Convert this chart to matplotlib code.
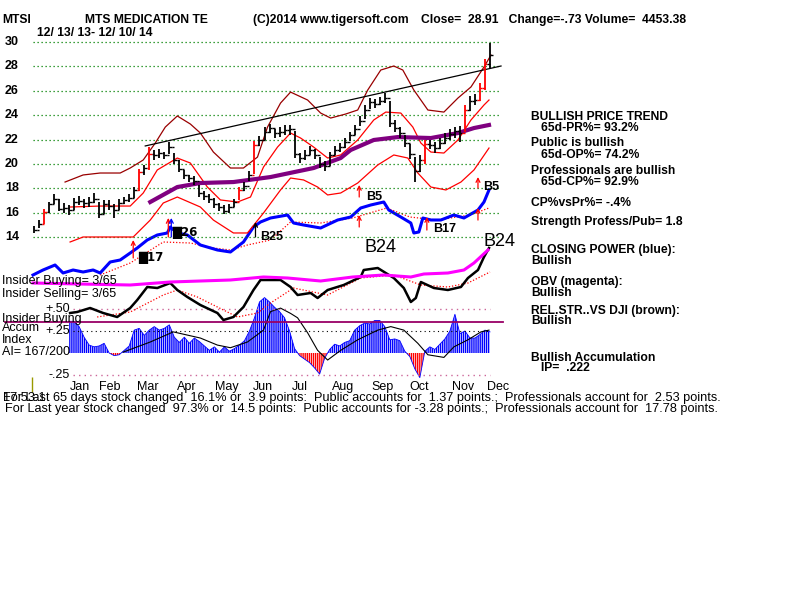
import numpy as np
import matplotlib
matplotlib.use('Agg')
import matplotlib.pyplot as plt

plt.rcParams['font.family'] = ['Liberation Sans', 'DejaVu Sans']
plt.rcParams['hatch.linewidth'] = 1.0

# ---- price bars (one bar every ~2.7 trading days, 12/13/13 - 12/10/14)
close = [14.57, 15.07, 16.05, 16.71, 17.12, 16.30, 16.38, 16.21, 16.87, 16.95,
         16.79, 16.87, 17.12, 15.89, 16.71, 16.54, 16.21, 16.79, 17.04, 17.20,
         17.86, 19.33, 19.66, 20.81, 20.73, 20.89, 20.73, 21.38, 20.32, 19.58,
         19.09, 18.84, 18.59, 17.61, 17.36, 17.12, 16.71, 16.46, 16.13, 16.46,
         16.87, 17.86, 18.18, 19.09, 21.55, 21.96, 22.61, 22.94, 22.53, 22.61,
         22.78, 22.86, 20.81, 20.48, 20.73, 21.14, 20.73, 19.99, 19.82, 20.73,
         21.14, 21.38, 21.79, 22.37, 22.86, 23.52, 24.42, 25.07, 24.91, 25.16,
         25.40, 23.35, 22.94, 22.53, 21.71, 20.81, 19.41, 20.32, 21.63, 21.55,
         21.30, 21.71, 22.12, 22.45, 22.70, 22.53, 24.42, 25.16, 25.24, 26.22,
         28.19, 28.91]
high = [14.9, 15.4, 16.3, 16.9, 17.5, 17.1, 16.8, 16.6, 17.2, 17.4,
        17.1, 17.3, 17.6, 16.9, 17.0, 17.0, 16.7, 17.1, 17.3, 17.5,
        18.1, 19.6, 19.9, 21.4, 21.1, 21.2, 21.0, 21.8, 20.9, 20.3,
        19.5, 19.1, 19.0, 18.3, 17.8, 17.5, 17.2, 16.8, 16.6, 16.7,
        17.1, 18.1, 18.5, 19.4, 21.9, 22.3, 23.0, 23.3, 22.9, 23.0,
        23.2, 23.2, 22.7, 20.9, 21.1, 21.5, 21.2, 20.6, 20.2, 21.0,
        21.5, 21.7, 22.1, 22.6, 23.2, 23.9, 24.8, 25.4, 25.3, 25.5,
        25.8, 25.2, 23.6, 23.0, 22.4, 21.6, 20.6, 20.7, 22.0, 22.0,
        21.8, 22.1, 22.5, 22.9, 23.0, 23.1, 24.8, 25.6, 25.7, 26.6,
        28.6, 29.9]
low = [14.3, 14.7, 15.1, 16.0, 16.7, 16.1, 16.0, 15.8, 16.2, 16.6,
       16.4, 16.5, 16.8, 15.6, 15.9, 16.2, 15.6, 16.2, 16.7, 16.9,
       17.2, 17.8, 19.1, 19.5, 20.3, 20.5, 20.4, 20.8, 20.0, 19.3,
       18.8, 18.5, 18.3, 17.3, 17.0, 16.8, 16.4, 16.1, 15.9, 16.0,
       16.5, 17.0, 17.8, 18.6, 19.2, 21.5, 22.0, 22.5, 22.1, 22.2,
       22.4, 22.4, 20.5, 20.1, 20.3, 20.7, 20.4, 19.7, 19.4, 19.8,
       20.7, 21.0, 21.3, 21.9, 22.4, 23.1, 23.7, 24.5, 24.6, 24.8,
       25.0, 23.0, 22.6, 22.1, 21.4, 20.4, 18.5, 19.3, 20.0, 21.2,
       20.9, 21.2, 21.6, 22.0, 22.1, 21.8, 22.6, 24.3, 24.8, 25.2,
       26.1, 27.8]

# ---- bands and averages on the price panel (x = bar index)
brown_x = [6.2, 9.8, 13.2, 17.2, 19.2, 21.8, 24.2, 26.2, 28.6, 31.2, 33.2, 35.8,
           39.2, 41.8, 44.6, 46.6, 49.2, 51.2, 54.6, 57.2, 59.2, 62.2, 64.6, 66.6,
           69.2, 71.8, 73.6, 75.8, 78.6, 81.8, 84.6, 87.2, 89.8, 91.2]
brown_y = [18.51, 19.09, 19.25, 19.25, 19.66, 20.32, 21.71, 23.02, 23.93, 23.27,
           22.53, 20.97, 19.66, 19.66, 20.56, 23.02, 24.99, 25.89, 25.24, 24.17,
           23.76, 24.09, 24.42, 26.06, 27.70, 28.03, 27.70, 26.06, 24.42, 24.25,
           25.40, 26.31, 27.95, 28.93]
mid_x = [7.2, 13.2, 19.2, 21.8, 24.6, 28.6, 31.2, 34.6, 37.2, 40.6, 43.2, 45.8,
         48.6, 51.2, 53.2, 55.8, 58.6, 61.2, 64.6, 67.8, 70.2, 73.2, 75.6, 77.2,
         79.2, 81.8, 84.6, 87.2, 89.8, 90.8]
mid_y = [16.46, 16.54, 16.54, 17.61, 19.50, 20.48, 20.07, 18.10, 17.04, 16.87,
         17.28, 19.74, 21.38, 22.53, 22.12, 21.38, 20.48, 20.73, 21.96, 23.60,
         24.25, 24.17, 23.02, 21.71, 20.97, 20.89, 21.96, 23.60, 24.83, 25.24]
lowb_x = [7.2, 9.8, 19.8, 23.2, 25.8, 28.6, 33.2, 35.8, 39.8, 42.6, 45.8, 49.2,
          51.2, 53.8, 56.6, 58.6, 61.2, 64.6, 68.6, 71.8, 74.6, 76.6, 79.2, 82.2,
          85.2, 87.8, 90.8]
lowb_y = [13.59, 14.0, 14.0, 15.39, 16.79, 17.28, 16.46, 15.39, 14.33, 14.33,
          15.97, 17.86, 18.84, 18.68, 18.10, 17.45, 17.61, 18.43, 19.91, 20.73,
          20.48, 19.25, 18.10, 17.86, 18.51, 19.50, 21.30]
ma_x = [23.2, 28.6, 33.2, 39.8, 47.2, 55.8, 61.2, 63.2, 67.8, 72.6, 79.2, 84.6,
        87.8, 90.8]
ma_y = [16.87, 18.10, 18.43, 18.51, 18.92, 19.66, 20.48, 21.14, 21.96, 22.20,
        22.12, 22.53, 22.94, 23.19]
trend_x = [22.2, 93.2]
trend_y = [21.47, 28.03]

# ---- closing power (blue) and its average
cp_x = [-0.2, 1.8, 4.2, 5.8, 7.8, 9.8, 11.8, 13.2, 15.2, 17.2, 19.2, 20.6, 22.6,
        24.6, 26.6, 27.2, 28.6, 30.6, 33.2, 36.6, 39.2, 41.8, 43.8, 45.2, 47.2,
        50.6, 51.8, 53.8, 57.2, 60.6, 63.2, 65.2, 67.2, 69.8, 70.8, 73.2, 75.2,
        75.8, 76.8, 77.6, 79.2, 81.2, 83.8, 85.8, 88.6, 89.8, 90.8]
cp_y = [2.5, 3.0, 3.5, 2.7, 3.0, 2.8, 3.0, 2.7, 3.8, 4.0, 4.7, 5.2, 6.0, 6.5, 6.7,
        7.3, 6.7, 6.5, 5.5, 5.0, 4.8, 5.8, 7.3, 7.8, 8.2, 8.5, 7.7, 7.5, 7.2, 8.0,
        8.3, 9.2, 9.5, 9.8, 9.0, 8.3, 7.7, 6.7, 6.8, 8.2, 8.0, 8.0, 8.5, 8.2, 9.0,
        9.8, 11.0]
cpma_x = [13.2, 19.2, 25.8, 31.2, 35.8, 39.2, 42.6, 47.2, 51.2, 57.2, 63.6, 70.4,
          75.0, 80.4, 87.0, 90.8]
cpma_y = [2.5, 3.7, 5.8, 5.7, 5.2, 5.0, 5.5, 6.0, 7.8, 7.7, 8.2, 9.2, 8.3, 8.0,
          8.5, 9.2]

# ---- OBV (magenta), black line and red dotted average
obv_x = [-0.2, 9.2, 19.2, 27.2, 39.2, 45.8, 50.6, 57.2, 63.6, 69.8, 75.2, 77.8,
         82.6, 85.8, 87.8, 90.6]
obv_y = [3.7, 3.6, 3.5, 3.8, 4.0, 4.3, 4.2, 3.9, 4.3, 4.5, 4.3, 4.6, 4.7, 5.0,
         5.7, 7.0]
blk_x = [7.2, 8.6, 11.2, 13.8, 16.6, 19.2, 20.6, 22.6, 24.6, 27.2, 28.6, 30.6,
         33.2, 36.6, 37.8, 39.8, 41.8, 43.8, 45.2, 49.2, 51.2, 52.6, 55.2, 56.6,
         58.6, 61.8, 65.2, 65.8, 68.6, 70.2, 71.8, 73.8, 75.2, 76.2, 77.2, 79.8,
         82.6, 85.2, 86.6, 88.6, 89.8, 90.8]
blk_y = [0.7, 0.8, 1.2, 0.7, 0.3, 1.2, 2.0, 3.3, 3.2, 3.7, 3.0, 2.3, 1.5, 0.7, 0.0,
         0.3, 1.3, 3.0, 4.0, 4.0, 3.3, 2.5, 2.7, 2.2, 3.0, 3.5, 4.3, 5.0, 5.2, 4.7,
         4.2, 3.2, 1.8, 2.2, 3.8, 3.2, 3.0, 3.3, 4.2, 5.0, 6.3, 7.2]
rdot_x = [12.6, 19.2, 25.8, 28.6, 32.6, 36.6, 40.6, 44.6, 47.2, 51.8, 58.6, 65.2,
          71.8, 77.2, 82.6, 86.6, 91.0]
rdot_y = [0.3, 0.8, 2.5, 3.0, 2.3, 1.3, 0.3, 0.7, 1.7, 3.2, 2.5, 4.2, 4.5, 3.5,
          3.3, 3.7, 4.8]

# ---- accumulation index (bars 7..91) and its average
ai = [0.36, 0.36, 0.30, 0.18, 0.09, 0.07, 0.08, 0.11, 0.00, -0.03, -0.02, 0.03,
      0.08, 0.26, 0.28, 0.20, 0.26, 0.30, 0.26, 0.28, 0.32, 0.18, 0.12, 0.18,
      0.11, 0.17, 0.13, 0.08, 0.03, 0.07, 0.01, 0.07, 0.02, 0.05, 0.09, 0.14,
      0.25, 0.40, 0.58, 0.63, 0.58, 0.52, 0.47, 0.40, 0.25, 0.05, -0.03, -0.07,
      -0.11, -0.17, -0.24, -0.06, 0.04, 0.10, 0.08, 0.12, 0.14, 0.26, 0.31, 0.34,
      0.33, 0.37, 0.37, 0.30, 0.15, 0.16, 0.14, 0.02, -0.04, -0.18, -0.28, 0.02,
      0.07, 0.04, 0.10, 0.16, 0.25, 0.44, 0.22, 0.25, 0.17, 0.17, 0.21, 0.26,
      0.24]
aima_x = [17.8, 23.2, 27.8, 33.2, 36.6, 39.2, 42.6, 45.8, 47.2, 49.2, 51.2, 52.6,
          54.6, 56.6, 58.6, 61.2, 64.6, 68.6, 71.2, 73.8, 76.6, 78.6, 81.8, 83.8,
          86.6, 89.2, 90.8]
aima_y = [0.01, 0.125, 0.24, 0.17, 0.09, 0.06, 0.125, 0.26, 0.47, 0.51, 0.45, 0.40,
          0.23, 0.03, -0.08, 0.03, 0.15, 0.26, 0.30, 0.26, 0.11, -0.02, -0.05, 0.07,
          0.15, 0.24, 0.26]

# ---- buy signal arrows: bar index, from, to (price units)
arrows = [(19.8, 12.28, 13.75, 'red'), (26.8, 14.0, 15.56, 'red'),
          (27.4, 14.0, 15.56, 'blue'), (44.2, 14.0, 15.23, 'black'),
          (64.9, 17.28, 18.27, 'red'), (64.9, 14.82, 15.80, 'red'),
          (78.4, 14.57, 15.64, 'red'), (88.6, 18.02, 18.92, 'red'),
          (88.6, 15.39, 16.38, 'red')]

months = ['Jan', 'Feb', 'Mar', 'Apr', 'May', 'Jun', 'Jul', 'Aug', 'Sep', 'Oct',
          'Nov', 'Dec']
month_pos = [9.2, 15.2, 22.8, 30.5, 38.5, 45.7, 53.1, 61.7, 69.5, 76.8, 85.6, 92.6]
price_levels = [14, 16, 18, 20, 22, 24, 26, 28, 30]

W, H = 800, 600
fig = plt.figure(figsize=(8, 6), dpi=100, facecolor='white')
xlim = (-34 / 5.011, (W - 34) / 5.011)


def layer(ylim):
    a = fig.add_axes([0, 0, 1, 1])
    a.set_xlim(xlim)
    a.set_ylim(ylim)
    a.axis('off')
    a.patch.set_alpha(0)
    return a


def ftext(x, y, s, size=8.7, weight='bold', **kw):
    fig.text(x / W, 1 - y / H, s, fontsize=size, fontweight=weight,
             va='center', ha=kw.pop('ha', 'left'), **kw)


ax_ai = layer((-(600 - 353) / 88.0, 353 / 88.0))
ax_obv = layer((-28, 32))
ax_cp = layer((-30, 30))
ax = layer((14 - 363 / 12.1875, 30 + 42 / 12.1875))

# price panel
ax.hlines(price_levels, -0.2, 93.2, colors='#008000', linestyles=(0, (1, 2.2)), lw=0.9)
for lv in price_levels:
    ax.text(5 / W, lv, str(lv), transform=ax.get_yaxis_transform(),
            fontsize=9, fontweight='bold', va='center')
ax.plot(brown_x, brown_y, color='#990000', lw=0.9)
ax.plot(mid_x, mid_y, color='red', lw=0.9)
ax.plot(lowb_x, lowb_y, color='red', lw=0.9)
ax.plot(trend_x, trend_y, color='black', lw=0.9)
ax.plot(ma_x, ma_y, color='#800080', lw=3)
for i in range(len(close)):
    up = i > 0 and close[i] - close[i - 1] > 0.95
    c = 'red' if up else 'black'
    ax.vlines(i, low[i], high[i], color=c, lw=1.3)
    ax.hlines(close[i], i, i + 0.5, color=c, lw=1.0)
    if i > 0:
        ax.hlines(close[i - 1], i - 0.5, i, color=c, lw=1.0)
for xa, y0, y1, c in arrows:
    ax.annotate('', xy=(xa, y1), xytext=(xa, y0),
                arrowprops=dict(arrowstyle='->', color=c, lw=0.9,
                                mutation_scale=7, shrinkA=0, shrinkB=0))
sig = dict(fontsize=9, fontweight='bold', va='center')
ax.text(66.2, 17.28, 'B5', **sig)
ax.text(89.6, 18.10, 'B5', **sig)
ax.text(79.6, 14.66, 'B17', **sig)
ax.text(45.1, 14.0, 'B25', **sig)
ax.text(27.5, 14.41, '\u258826', family=['DejaVu Sans'], fontsize=8.5,
        fontweight='bold', va='center')
ax.text(20.8, 12.28, '\u258817', family=['DejaVu Sans'], fontsize=8.5,
        fontweight='bold', va='center')
ax.text(66.0, 13.10, 'B24', fontsize=13, va='center')
ax.text(89.8, 13.67, 'B24', fontsize=13, va='center')

# closing power
ax_cp.plot(cpma_x, cpma_y, color='red', lw=0.9, ls=(0, (1, 1.5)))
ax_cp.plot(cp_x, cp_y, color='blue', lw=2.2)

# OBV panel
ax_obv.plot(rdot_x, rdot_y, color='red', lw=0.9, ls=(0, (1, 1.5)))
ax_obv.plot(blk_x, blk_y, color='black', lw=1.8)
ax_obv.plot(obv_x, obv_y, color='#ff00ff', lw=2.2)

# accumulation index
ai_x = np.arange(7, 7 + len(ai))
ai_v = np.array(ai)
ax_ai.fill_between(ai_x, 0, ai_v, where=ai_v >= 0, interpolate=True,
                   facecolor='none', edgecolor='blue', hatch='|' * 8, lw=0)
ax_ai.fill_between(ai_x, 0, ai_v, where=ai_v <= 0, interpolate=True,
                   facecolor='none', edgecolor='red', hatch='|' * 8, lw=0)
ax_ai.plot(ai_x, ai_v, color='blue', lw=0.6)
ax_ai.plot(aima_x, aima_y, color='black', lw=0.8)
ax_ai.hlines([0.5, -0.25], 7.8, 91, colors='#cc6699', linestyles=(0, (1, 3)), lw=1)
ax_ai.hlines([0.25], 7.8, 91, colors='black', linestyles=(0, (1, 3)), lw=0.8)
ax_ai.axhline(0.35, xmin=5 / W, xmax=503 / W, color='#990066', lw=1.3)
ax_ai.vlines(-0.4, -0.44, -0.27, color='#999900', lw=1)
for lv, s in [(0.5, '+.50'), (0.25, '+.25'), (-0.25, '-.25')]:
    ax_ai.text(70 / W, lv, s, transform=ax_ai.get_yaxis_transform(),
               fontsize=9, ha='right', va='center')
for m, p in zip(months, month_pos):
    ax_ai.text(p, -0.39, m, fontsize=9, ha='center', va='center')

# header
ftext(2, 20, 'MTSI')
ftext(85, 20, 'MTS MEDICATION TE')
ftext(253, 20, '(C)2014 www.tigersoft.com')
ftext(421, 20, 'Close=  28.91   Change=-.73 Volume=  4453.38')
ftext(37, 33, '12/ 13/ 13- 12/ 10/ 14')

# left labels
ftext(2, 281, 'Insider Buying= 3/65', size=9, weight='normal')
ftext(2, 294, 'Insider Selling= 3/65', size=9, weight='normal')
ftext(2, 319, 'Insider Buying', size=9, weight='normal')
ftext(2, 328, 'Accum', size=9, weight='normal')
ftext(2, 340, 'Index', size=9, weight='normal')
ftext(2, 352, 'AI= 167/200', size=9, weight='normal')

# right panel
right = [(531, 117, 'BULLISH PRICE TREND'), (541, 128, '65d-PR%= 93.2%'),
         (531, 143, 'Public is bullish'), (541, 155, '65d-OP%= 74.2%'),
         (531, 171, 'Professionals are bullish'), (541, 182, '65d-CP%= 92.9%'),
         (531, 203, 'CP%vsPr%= -.4%'), (531, 222, 'Strength Profess/Pub= 1.8'),
         (531, 250, 'CLOSING POWER (blue):'), (531, 261, 'Bullish'),
         (531, 282, 'OBV (magenta):'), (531, 293, 'Bullish'),
         (531, 311, 'REL.STR..VS DJI (brown):'), (531, 321, 'Bullish'),
         (531, 358, 'Bullish Accumulation'), (541, 368, 'IP=  .222')]
for x, y, s in right:
    ftext(x, y, s)

# bottom lines
ftext(3, 398, 'For Last 65 days stock changed  16.1% or  3.9 points:  Public accounts '
      'for  1.37 points.;  Professionals account for  2.53 points.',
      size=9.2, weight='normal')
ftext(3, 398, '17:53:1', size=9.2, weight='normal')
ftext(5, 409, 'For Last year stock changed  97.3% or  14.5 points:  Public accounts '
      'for -3.28 points.;  Professionals account for  17.78 points.',
      size=9.2, weight='normal')

fig.savefig('out.png', dpi=100, facecolor='white')
